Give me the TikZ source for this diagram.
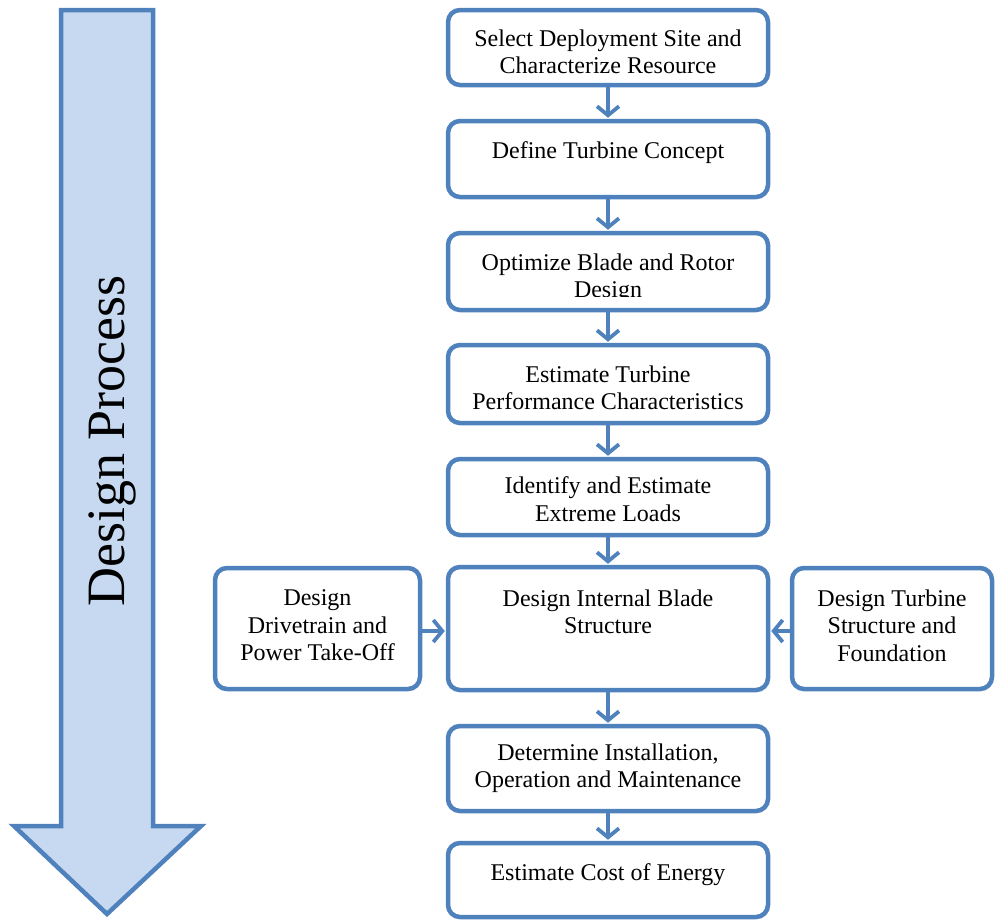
\documentclass[tikz,border=0pt]{standalone}
\usepackage{fontspec}
\setmainfont{Liberation Serif}
\usetikzlibrary{arrows.meta}
\definecolor{edgeblue}{HTML}{4F81BD}
\definecolor{fillblue}{HTML}{C6D9F1}

\begin{document}
\begin{tikzpicture}[x=1pt,y=-1pt,
  stepbox/.style={draw=edgeblue, line width=4.5pt, rounded corners=12pt, fill=white,
    inner sep=0pt, minimum width=320pt},
  sidebox/.style={draw=edgeblue, line width=4.5pt, rounded corners=12pt, fill=white,
    inner sep=0pt},
  boxtext/.style={anchor=north, align=center, inner sep=0pt,
    font=\fontsize{24}{27.5}\selectfont},
  flow/.style={draw=edgeblue, line width=3.8pt, shorten >=1pt,
    -{Straight Barb[length=9pt,width=22pt]}}]

\useasboundingbox (0,0) rectangle (995,922);

% big down arrow on the left
\draw[draw=edgeblue, fill=fillblue, line width=4.5pt, miter limit=10]
  (61,10) -- (153,10) -- (153,826) -- (201,826) -- (107,914)
  -- (14,826) -- (61,826) -- cycle;
\node[rotate=90, inner sep=0pt, font=\fontsize{54}{60}\selectfont]
  (dp) at (112,441) {Design Process};

% main column of steps
\node[stepbox, minimum height=75pt] (b1) at (608,47.5) {};
\node[stepbox, minimum height=76pt] (b2) at (608,159) {};
\node[stepbox, minimum height=77pt] (b3) at (608,271.5) {};
\node[stepbox, minimum height=78pt] (b4) at (608,384) {};
\node[stepbox, minimum height=76pt] (b5) at (608,497) {};
\node[stepbox, minimum height=123pt] (b6) at (608,628.5) {};
\node[stepbox, minimum height=85pt] (b7) at (608,768.5) {};
\node[stepbox, minimum height=74pt] (b8) at (608,880) {};

% side steps
\node[sidebox, minimum width=205pt, minimum height=121pt] (bl) at (317.5,628.5) {};
\node[sidebox, minimum width=200pt, minimum height=121pt] (br) at (892,628.5) {};

% step labels
\node[boxtext] (t1) at (608,29.5) {Select Deployment Site and\\Characterize Resource};
\node[boxtext] (t2) at (608,141.5) {Define Turbine Concept};
\begin{scope}
  \clip (440,240) rectangle (780,296);
  \node[boxtext] (t3) at (608,253.5) {Optimize Blade and Rotor\\Design};
\end{scope}
\node[boxtext] (t4) at (608,365.5) {Estimate Turbine\\Performance Characteristics};
\node[boxtext] (t5) at (608,476.5) {Identify and Estimate\\Extreme Loads};
\node[boxtext] (t6) at (608,589.5) {Design Internal Blade\\Structure};
\node[boxtext] (t7) at (608,743.5) {Determine Installation,\\Operation and Maintenance};
\node[boxtext] (t8) at (608,863.5) {Estimate Cost of Energy};
\node[boxtext] (tl) at (317.5,589.5) {Design\\Drivetrain and\\Power Take-Off};
\node[boxtext] (tr) at (892,589.5) {Design Turbine\\Structure and\\Foundation};

% connectors
\draw[flow] (b1.south) -- (b2.north);
\draw[flow] (b2.south) -- (b3.north);
\draw[flow] (b3.south) -- (b4.north);
\draw[flow] (b4.south) -- (b5.north);
\draw[flow] (b5.south) -- (b6.north);
\draw[flow] (b6.south) -- (b7.north);
\draw[flow] (b7.south) -- (b8.north);
\draw[flow] (bl.east |- 0,631) -- (b6.west |- 0,631);
\draw[flow] (br.west |- 0,631) -- (b6.east |- 0,631);
\end{tikzpicture}
\end{document}
